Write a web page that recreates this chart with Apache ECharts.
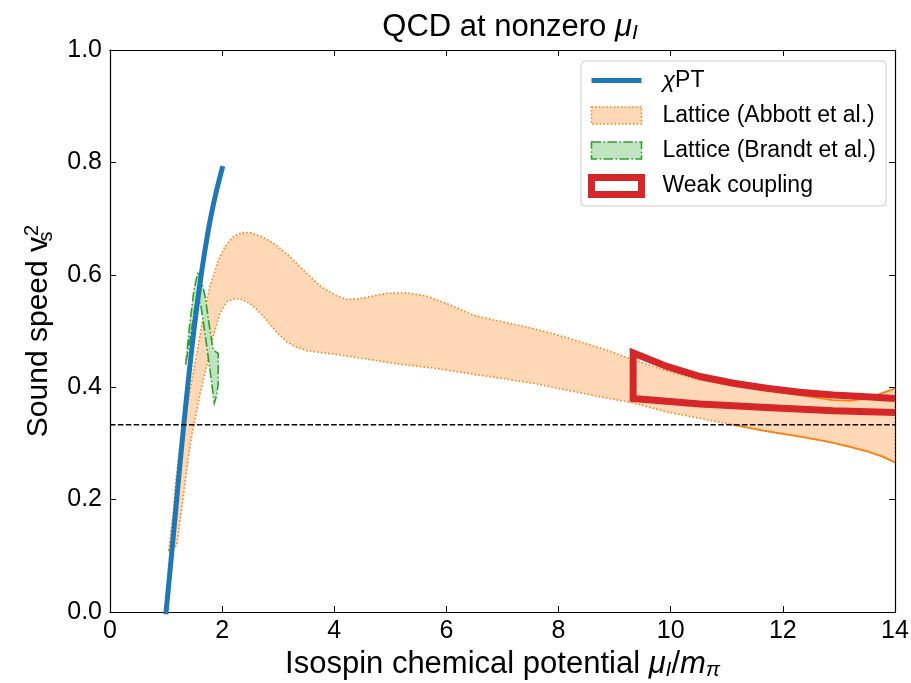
<!DOCTYPE html>
<html>
<head>
<meta charset="utf-8">
<script src="https://cdn.jsdelivr.net/npm/echarts@6/dist/echarts.min.js"></script>
<style>
  html, body { margin: 0; padding: 0; background: #fff; }
  #chart { width: 911px; height: 683px; }
</style>
</head>
<body>
<div id="chart"></div>
<script>
// chiral perturbation theory curve  [mu_I/m_pi, c_s^2]
const chptCurve = [
  [1.0, 0.0], [1.1, 0.104], [1.2, 0.212], [1.3, 0.317], [1.4, 0.415], [1.5, 0.504],
  [1.6, 0.581], [1.7, 0.648], [1.8, 0.704], [1.9, 0.750], [2.0, 0.789]
]

// lattice band, Abbott et al.
const abbottUpper = [
  [1.05, 0.11], [1.12, 0.17], [1.17, 0.23], [1.24, 0.29], [1.32, 0.335], [1.40, 0.377],
  [1.49, 0.43], [1.58, 0.478], [1.66, 0.525], [1.78, 0.578], [1.93, 0.625], [2.05, 0.65],
  [2.2, 0.668], [2.35, 0.675], [2.5, 0.675], [2.7, 0.668], [2.85, 0.66], [3.0, 0.65],
  [3.21, 0.632], [3.4, 0.613], [3.57, 0.597], [3.75, 0.58], [3.86, 0.573], [4.05, 0.562],
  [4.22, 0.556], [4.4, 0.557], [4.58, 0.56], [4.93, 0.567], [5.29, 0.568], [5.65, 0.562],
  [6.0, 0.549], [6.48, 0.528], [6.96, 0.517], [7.43, 0.507], [7.91, 0.495], [8.38, 0.481],
  [8.86, 0.466], [9.27, 0.451], [9.9, 0.43], [10.52, 0.413], [11.1, 0.403], [11.71, 0.395],
  [12.3, 0.386], [12.9, 0.377], [13.2, 0.376], [13.5, 0.38], [13.85, 0.392], [14.0, 0.398]
]
const abbottLower = [
  [1.19, 0.118], [1.28, 0.185], [1.37, 0.255], [1.45, 0.31], [1.52, 0.345], [1.61, 0.39],
  [1.72, 0.436], [1.84, 0.49], [1.96, 0.531], [2.08, 0.552], [2.23, 0.558], [2.35, 0.556],
  [2.5, 0.549], [2.65, 0.535], [2.79, 0.52], [2.95, 0.5], [3.15, 0.481], [3.3, 0.472],
  [3.51, 0.465], [3.98, 0.459], [4.58, 0.45], [5.17, 0.441], [5.77, 0.434], [6.36, 0.425],
  [6.96, 0.416], [7.55, 0.407], [8.14, 0.395], [8.74, 0.383], [9.33, 0.372], [9.93, 0.356],
  [10.5, 0.345], [11.12, 0.333], [11.7, 0.322], [12.31, 0.312], [12.8, 0.303], [13.2, 0.294],
  [13.5, 0.286], [13.79, 0.276], [14.0, 0.266]
]
// where the band edges change from dotted to solid
const abbottUpperSolidFrom = 12.3
const abbottLowerSolidFrom = 11.3

// lattice band, Brandt et al.
const brandtUpper = [
  [1.35, 0.44], [1.42, 0.51], [1.5, 0.575], [1.57, 0.605], [1.63, 0.59], [1.7, 0.56],
  [1.77, 0.51], [1.84, 0.466], [1.93, 0.46]
]
const brandtLower = [
  [1.35, 0.44], [1.45, 0.5], [1.55, 0.565], [1.62, 0.545], [1.68, 0.505], [1.75, 0.455],
  [1.81, 0.41], [1.86, 0.372], [1.9, 0.385], [1.93, 0.405]
]

// weak coupling band
const weakUpper = [
  [9.33, 0.461], [9.93, 0.437], [10.52, 0.419], [11.12, 0.407], [11.71, 0.398],
  [12.3, 0.391], [12.9, 0.386], [13.49, 0.383], [14.0, 0.38]
]
const weakLower = [
  [9.33, 0.38], [10.52, 0.37], [11.71, 0.364], [12.9, 0.358], [14.0, 0.355]
]

// conformal limit c_s^2 = 1/3
const conformal = [[0, 0.3333], [14, 0.3333]]

const xTicks = { min: 0, max: 14, interval: 2 }
const yTicks = { min: 0, max: 1, interval: 0.2 }

const FONT = 'Liberation Sans, Arial, sans-serif'
const BLUE = '#1f77b4'
const ORANGE = '#ff7f0e'
const ORANGE_FILL = '#ffd9b7'
const GREEN = '#2ca02c'
const GREEN_FILL = '#c0e3c0'
const RED = '#d62728'

const chart = echarts.init(document.getElementById('chart'))

const bandRenderer = (upper, lower, fill, stroke, dash, upperSolidFrom, lowerSolidFrom) => {
  return (params, api) => {
    const up = upper.map(p => api.coord(p))
    const lo = lower.map(p => api.coord(p))
    const poly = up.concat(lo.slice().reverse())
    const children = [
      { type: 'polygon', shape: { points: poly }, style: { fill: fill, stroke: null } },
      { type: 'polygon', shape: { points: poly },
        style: { fill: null, stroke: stroke, lineWidth: 1.6, lineDash: dash, lineCap: 'butt' } }
    ]
    // solid tail segments
    const tail = (arr, from) => {
      const idx = arr.findIndex(p => p[0] >= from)
      if (idx < 0) return
      const pts = arr.slice(Math.max(idx - 1, 0)).map(p => api.coord(p))
      children.push({ type: 'polyline', shape: { points: pts },
        style: { fill: null, stroke: stroke, lineWidth: 1.8 } })
    }
    if (upperSolidFrom != null) tail(upper, upperSolidFrom)
    if (lowerSolidFrom != null) tail(lower, lowerSolidFrom)
    return { type: 'group', children: children }
  }
}

const axisLineStyle = { show: true, onZero: false, lineStyle: { color: '#000', width: 1.2 } }
const tickStyle = { show: true, inside: true, length: 6, lineStyle: { color: '#000', width: 1 } }

const option = {
  animation: false,
  backgroundColor: '#fff',
  title: {
    text: 'QCD at nonzero {it|μ}{sub|I}',
    left: 505,
    top: 6,
    textAlign: 'center',
    textStyle: {
      fontFamily: FONT, fontSize: 31, fontWeight: 'normal', color: '#000',
      rich: {
        it: { fontFamily: FONT, fontSize: 31, fontStyle: 'italic', color: '#000' },
        sub: { fontFamily: FONT, fontSize: 21, fontStyle: 'italic', color: '#000', verticalAlign: 'bottom', padding: [12, 0, 0, 0] }
      }
    }
  },
  grid: { left: 110, right: 16, top: 50, bottom: 71, outerBoundsMode: 'none', containLabel: false },
  legend: {
    orient: 'vertical',
    right: 25,
    top: 61,
    align: 'left',
    backgroundColor: 'rgba(255,255,255,0.85)',
    borderColor: '#cccccc',
    borderWidth: 1,
    borderRadius: 4,
    padding: [8, 10, 8, 7],
    itemWidth: 50,
    itemHeight: 17,
    itemGap: 12,
    textStyle: {
      fontFamily: FONT, fontSize: 23, color: '#000',
      rich: {
        gap: { width: 16 },
        it: { fontFamily: FONT, fontSize: 23, fontStyle: 'italic', color: '#000' },
        t: { fontFamily: FONT, fontSize: 23, color: '#000' }
      }
    },
    formatter: name => name === 'χPT' ? '{gap|}{it|χ}{t|PT}' : '{gap|}{t|' + name + '}',
    data: [
      { name: 'χPT', icon: 'path://M0,0H50V5H0Z', itemStyle: { color: BLUE, borderWidth: 0 } },
      { name: 'Lattice (Abbott et al.)', icon: 'rect',
        itemStyle: { color: ORANGE_FILL, borderColor: ORANGE, borderWidth: 1.6, borderType: [1.5, 2.2] } },
      { name: 'Lattice (Brandt et al.)', icon: 'rect',
        itemStyle: { color: GREEN_FILL, borderColor: GREEN, borderWidth: 1.6, borderType: [9.6, 2.4, 1.5, 2.4] } },
      { name: 'Weak coupling', icon: 'rect',
        itemStyle: { color: '#fff', borderColor: RED, borderWidth: 7 } }
    ]
  },
  xAxis: [
    {
      type: 'value', ...xTicks,
      name: 'Isospin chemical potential {it|μ}{sub|I}{t|/}{it|m}{sub|π}',
      nameLocation: 'middle',
      nameGap: 34,
      nameTextStyle: {
        fontFamily: FONT, fontSize: 31, color: '#000',
        rich: {
          t: { fontFamily: FONT, fontSize: 31, color: '#000' },
          it: { fontFamily: FONT, fontSize: 31, fontStyle: 'italic', color: '#000' },
          sub: { fontFamily: FONT, fontSize: 21, fontStyle: 'italic', color: '#000', verticalAlign: 'bottom', padding: [12, 0, 0, 0] }
        }
      },
      axisLine: axisLineStyle,
      axisTick: tickStyle,
      axisLabel: { fontFamily: FONT, fontSize: 25, color: '#000', margin: 7 },
      splitLine: { show: false }
    },
    {
      type: 'value', ...xTicks, position: 'top',
      axisLine: axisLineStyle,
      axisTick: tickStyle,
      axisLabel: { show: false },
      splitLine: { show: false }
    }
  ],
  yAxis: [
    {
      type: 'value', ...yTicks,
      name: 'Sound speed {it|v}{sub|s}{sup|2}',
      nameLocation: 'middle',
      nameGap: 54,
      nameTextStyle: {
        fontFamily: FONT, fontSize: 30, color: '#000',
        rich: {
          it: { fontFamily: FONT, fontSize: 30, color: '#000' },
          sub: { fontFamily: FONT, fontSize: 20, color: '#000', verticalAlign: 'bottom', width: 1, padding: [14, 0, 0, 0] },
          sup: { fontFamily: FONT, fontSize: 20, color: '#000', verticalAlign: 'top', padding: [0, 0, 12, 0] }
        }
      },
      axisLine: axisLineStyle,
      axisTick: tickStyle,
      axisLabel: { fontFamily: FONT, fontSize: 25, color: '#000', margin: 8, formatter: v => v.toFixed(1) },
      splitLine: { show: false }
    },
    {
      type: 'value', ...yTicks, position: 'right',
      axisLine: axisLineStyle,
      axisTick: tickStyle,
      axisLabel: { show: false },
      splitLine: { show: false }
    }
  ],
  series: [
    {
      name: 'Lattice (Abbott et al.)',
      type: 'custom',
      z: 1,
      clip: true,
      itemStyle: { color: ORANGE_FILL },
      data: [[0, 0]],
      renderItem: bandRenderer(abbottUpper, abbottLower, ORANGE_FILL, ORANGE, [1.5, 2.2],
        abbottUpperSolidFrom, abbottLowerSolidFrom)
    },
    {
      name: 'Lattice (Brandt et al.)',
      type: 'custom',
      z: 2,
      clip: true,
      itemStyle: { color: GREEN_FILL },
      data: [[0, 0]],
      renderItem: bandRenderer(brandtUpper, brandtLower, GREEN_FILL, GREEN, [9.6, 2.4, 1.5, 2.4])
    },
    {
      name: 'χPT',
      type: 'line',
      z: 3,
      data: chptCurve,
      smooth: 0.3,
      symbol: 'none',
      lineStyle: { color: BLUE, width: 5, cap: 'square' },
      itemStyle: { color: BLUE }
    },
    {
      name: 'Weak coupling',
      type: 'line',
      z: 4,
      data: weakUpper.slice().reverse().concat(weakLower),
      symbol: 'none',
      lineStyle: { color: RED, width: 7, join: 'miter', cap: 'butt' },
      itemStyle: { color: RED }
    },
    {
      name: 'conformal',
      type: 'line',
      z: 5,
      data: conformal,
      symbol: 'none',
      silent: true,
      lineStyle: { color: '#000', width: 1.5, type: [5.5, 2.4] }
    }
  ]
}

chart.setOption(option)
</script>
</body>
</html>
